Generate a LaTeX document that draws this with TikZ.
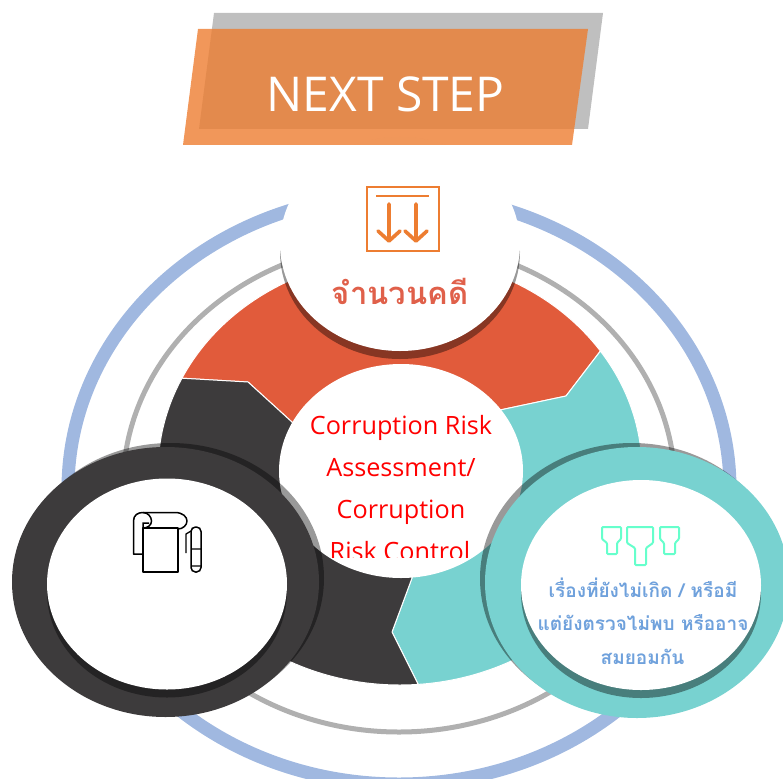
\documentclass[tikz,border=0pt]{standalone}
\usepackage{fontspec}
\setmainfont{Open Sans}
\newfontfamily\thaifont[Script=Thai]{Loma}
\definecolor{stepOrange}{HTML}{ED7D31}
\definecolor{stepGray}{HTML}{BFBFBF}
\definecolor{ringBlue}{HTML}{A0B8E0}
\definecolor{ringGray}{HTML}{B0B0B0}
\definecolor{segRed}{HTML}{E15B3B}
\definecolor{segTeal}{HTML}{78D2D0}
\definecolor{segDark}{HTML}{3D3B3C}
\definecolor{labelRed}{HTML}{E0604A}
\definecolor{labelBlue}{HTML}{6FA1DC}
\definecolor{iconGreen}{HTML}{66FFCC}
\tikzset{
    segment/.style={draw=white,line width=1pt,line join=round},
    shade band/.style={fill=black,fill opacity=0.4},
    core label/.style={text=red,anchor=base,font=\fontsize{25.2}{25}\selectfont,inner sep=0pt},
    case label/.style={text=labelBlue,anchor=base,font=\thaifont\bfseries\fontsize{19}{19}\selectfont,inner sep=0pt}
}
\begin{document}
\begin{tikzpicture}[x=1pt,y=1pt,yscale=-1,xscale=1]
    \clip (0,0) rectangle (783,778);
    % back rings
    \draw [ringBlue,line width=13pt] (399,489) ellipse [x radius=331, y radius=295];
    \draw [ringGray,line width=5pt] (399,487) ellipse [x radius=276, y radius=245];
    % three segments
    \fill [segRed,segment] (400,471) ++(205.7:242 and 214) arc [start angle=205.7, end angle=325.9, x radius=242, y radius=214] -- (566,396) -- (500,410) -- (400,471) -- (293,423) -- (248,382) -- cycle;
    \fill [segTeal,segment] (400,471) ++(325.9:242 and 214) arc [start angle=325.9, end angle=445.7, x radius=242, y radius=214] -- (392,632) -- (412,578) -- (400,471) -- (500,410) -- (566,396) -- cycle;
    \fill [segDark,segment] (400,471) ++(85.7:242 and 214) arc [start angle=85.7, end angle=205.7, x radius=242, y radius=214] -- (248,382) -- (293,423) -- (400,471) -- (412,578) -- (392,632) -- cycle;
    % centre
    \fill [white] (401,471) ellipse [x radius=122, y radius=107];
    \begin{scope}
        \clip (260,380) rectangle (540,557);
        \node [core label] (coreA) at (401,434) {Corruption Risk};
        \node [core label] (coreB) at (401,476) {Assessment/};
        \node [core label] (coreC) at (401,518) {Corruption};
        \node [core label] (coreD) at (400,560) {Risk Control};
    \end{scope}
    % top disc
    \fill [shade band] (400,252) ellipse [x radius=120, y radius=107];
    \fill [white] (400,244) ellipse [x radius=120, y radius=107];
    % left ring
    \fill [shade band] (170.5,578) ellipse [x radius=153.5, y radius=135];
    \fill [segDark] (165.5,582) ellipse [x radius=153.5, y radius=135];
    \fill [shade band] (167,592) ellipse [x radius=120, y radius=105.5];
    \fill [white] (167,584) ellipse [x radius=120, y radius=105.5];
    % right ring
    \fill [shade band] (632,578.5) ellipse [x radius=152, y radius=135.5];
    \fill [segTeal] (637,582.5) ellipse [x radius=152, y radius=135.5];
    \fill [shade band] (641,593) ellipse [x radius=120, y radius=105];
    \fill [white] (641,585) ellipse [x radius=120, y radius=105];
    % title
    \fill [stepGray] (214,13) -- (603,13) -- (588,129) -- (199,129) -- cycle;
    \fill [stepOrange,fill opacity=0.8] (198,29) -- (588,29) -- (572,145) -- (183,145) -- cycle;
    \node [text=white,font=\fontsize{48}{48}\selectfont,inner sep=0pt,anchor=base] (title) at (385.5,112) {NEXT STEP};
    % top icon
    \draw [stepOrange,line width=1.8pt] (367,187) rectangle (439,251);
    \draw [stepOrange,line width=1.4pt] (376,196) -- (429,196);
    \draw [stepOrange,line width=3.6pt,line cap=round,line join=round] (389,204) -- (389,240) (378,231) -- (389,241) -- (400,231) (416,204) -- (416,240) (405,231) -- (416,241) -- (427,231);
    \node [text=labelRed,anchor=base,font=\thaifont\bfseries\fontsize{31}{31}\selectfont,inner sep=0pt] (caseCount) at (400,304) {จำนวนคดี};
    % left icon
    \draw [black,line width=1.5pt,line join=round] (143,528) rectangle (178,572);
    \draw [black,line width=1.5pt,line join=round] (143,554) -- (133.5,554) -- (133.5,521) .. controls (133.5,515) and (138,512.5) .. (143,512.5) -- (175,512.5) .. controls (183,512.5) and (187,517) .. (187,521) .. controls (187,525) and (183,529) .. (178,529);
    \draw [black,line width=1.5pt] (143,512.5) .. controls (148,512.5) and (151.5,517) .. (151.5,521) .. controls (151.5,525) and (148,528) .. (143,528) (143,528) -- (143,523) -- (149,523);
    \draw [black,line width=1.5pt,rounded corners=4.5pt] (191,527) rectangle (201,572);
    \draw [black,line width=1.3pt] (191,549) -- (201,549) (191,566) -- (201,566) (186,553) -- (186,534) -- (191,531);
    % right icon
    \draw [iconGreen,line width=2pt,rounded corners=1pt] (602,527) -- (621,527) -- (621,539) -- (617,543) -- (617,554) -- (607,554) -- (607,543) -- (602,539) -- cycle;
    \draw [iconGreen,line width=2pt,rounded corners=1pt] (627,527) -- (653,527) -- (653,543) -- (646,548) -- (646,565) -- (635,565) -- (635,548) -- (627,543) -- cycle;
    \draw [iconGreen,line width=2pt,rounded corners=1pt] (660,527) -- (679,527) -- (679,539) -- (675,543) -- (675,554) -- (664,554) -- (664,543) -- (660,539) -- cycle;
    \node [case label] (caseA) at (643,597) {เรื่องที่ยังไม่เกิด / หรือมี};
    \node [case label] (caseB) at (643,630) {แต่ยังตรวจไม่พบ หรืออาจ};
    \node [case label] (caseC) at (642.5,664) {สมยอมกัน};
\end{tikzpicture}
\end{document}
